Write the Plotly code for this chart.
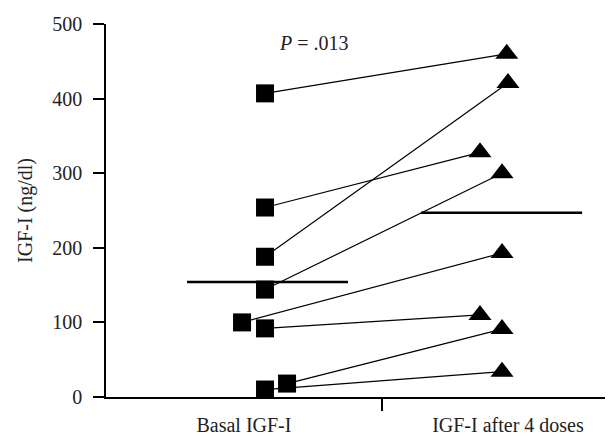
import plotly.graph_objects as go

# Data
basal_vals = [407, 254, 188, 144, 100, 92, 18, 10]
basal_x = [1.0, 1.0, 1.0, 1.0, 0.903, 1.0, 1.093, 1.0]
after_vals = [460, 328, 421, 300, 193, 110, 91, 34]
after_x = [2.02, 1.907, 2.025, 2.0, 2.0, 1.907, 2.0, 2.0]
mean_vals = [154, 247]
mean_x_basal = [0.671, 1.35]
mean_x_after = [1.658, 2.338]
category_labels = ["Basal IGF-I", "IGF-I after 4 doses"]
category_pos = [0.911, 2.025]
y_ticks = [0, 100, 200, 300, 400, 500]

FONT = "Liberation Serif"
FS = 20
fig = go.Figure()

# connecting lines
for bx, by, ax, ay in zip(basal_x, basal_vals, after_x, after_vals):
    fig.add_trace(go.Scatter(x=[bx, ax], y=[by, ay], mode="lines",
                             line=dict(color="black", width=1.2),
                             hoverinfo="skip", showlegend=False))

# mean lines
fig.add_trace(go.Scatter(x=mean_x_basal, y=[mean_vals[0]] * 2, mode="lines",
                         line=dict(color="black", width=2.5), showlegend=False))
fig.add_trace(go.Scatter(x=mean_x_after, y=[mean_vals[1]] * 2, mode="lines",
                         line=dict(color="black", width=2.5), showlegend=False))

fig.add_trace(go.Scatter(x=basal_x, y=basal_vals, mode="markers",
                         marker=dict(symbol="square", size=18, color="black"),
                         showlegend=False))
fig.add_trace(go.Scatter(x=after_x, y=after_vals, mode="markers",
                         marker=dict(symbol="triangle-up", size=20, color="black"),
                         showlegend=False))

fig.add_annotation(x=1.207, y=474, xref="x", yref="y", text="<i>P</i> = .013",
                   showarrow=False, font=dict(family=FONT, size=FS, color="#222"))

fig.update_layout(
    width=613, height=436,
    margin=dict(l=98, r=0, t=16, b=47),
    plot_bgcolor="white", paper_bgcolor="white",
    font=dict(family=FONT, size=FS, color="#222"),
    showlegend=False,
)
fig.update_xaxes(
    range=[0.329, 2.502], showgrid=False, zeroline=False,
    showline=True, linecolor="black", linewidth=1.5,
    tickmode="array", tickvals=category_pos, ticktext=category_labels,
    ticks="", ticklabelstandoff=9,
    minor=dict(tickmode="array", tickvals=[1.494], ticks="outside",
               ticklen=12, tickcolor="black", tickwidth=1.5),
)
fig.update_yaxes(
    range=[0, 500], showgrid=False, zeroline=False,
    showline=True, linecolor="black", linewidth=1.5,
    tickmode="array", tickvals=y_ticks, ticks="outside", ticklen=11,
    tickcolor="black", tickwidth=1.5, ticklabelstandoff=7,
    title=dict(text="IGF-I (ng/dl)", standoff=14, font=dict(family=FONT, size=FS)),
)

fig.write_html("out.html")
